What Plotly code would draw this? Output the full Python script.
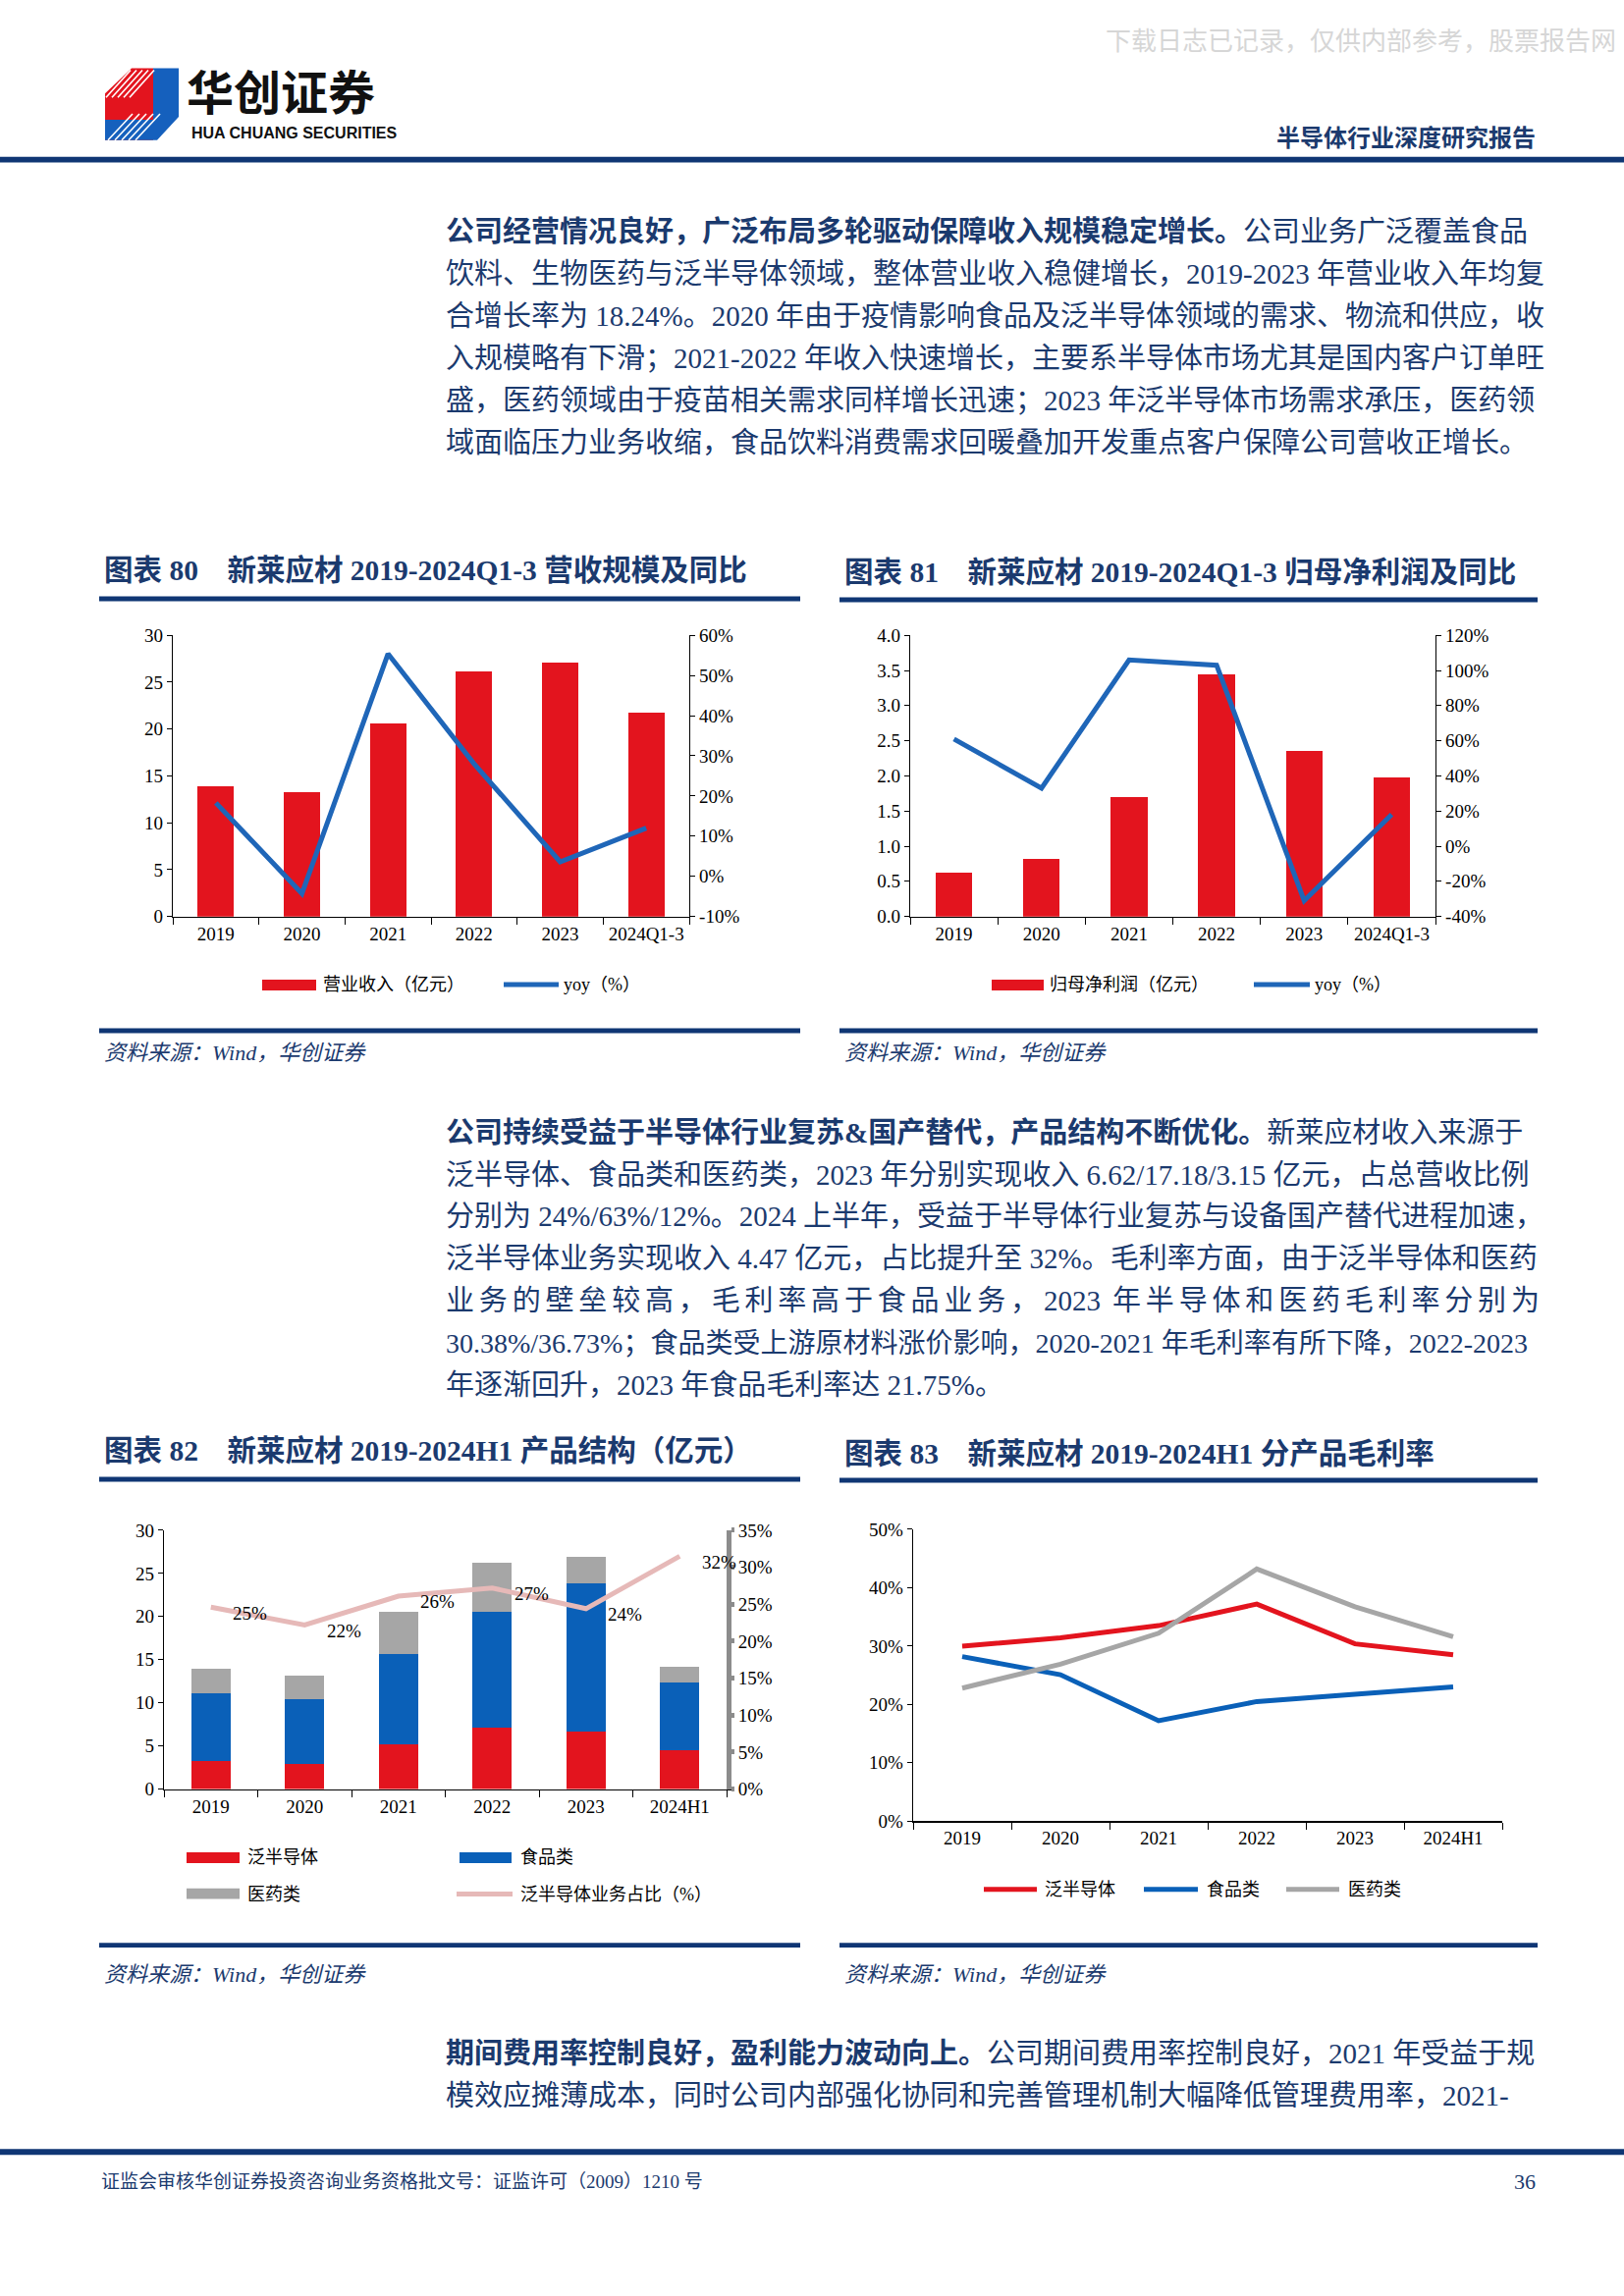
import plotly.graph_objects as go

# ---------------- data ----------------
cats_q = ["2019", "2020", "2021", "2022", "2023", "2024Q1-3"]
revenue = [13.9, 13.3, 20.6, 26.2, 27.1, 21.7]
revenue_yoy = [18.3, -4.3, 55.4, 28.0, 3.6, 12.0]
net_profit = [0.62, 0.82, 1.70, 3.45, 2.36, 1.98]
net_profit_yoy = [61.0, 33.0, 106.0, 103.0, -31.0, 18.0]

cats_h = ["2019", "2020", "2021", "2022", "2023", "2024H1"]
semi_rev = [3.3, 2.9, 5.2, 7.1, 6.62, 4.47]
food_rev = [7.8, 7.5, 10.4, 13.4, 17.18, 7.9]
pharma_rev = [2.8, 2.8, 5.0, 5.7, 3.15, 1.8]
semi_share = [24.6, 22.2, 26.1, 27.2, 24.4, 31.5]
semi_share_text = ["25%", "22%", "26%", "27%", "24%", "32%"]

semi_gm = [30.0, 31.4, 33.5, 37.2, 30.38, 28.5]
food_gm = [28.2, 25.1, 17.2, 20.5, 21.75, 23.0]
pharma_gm = [22.8, 26.9, 32.2, 43.2, 36.73, 31.6]

# right-axis tick labels (hyphen minus, as in the reference)
yoy80_ticks = [-10, 0, 10, 20, 30, 40, 50, 60]
yoy80_labels = ["-10%", "0%", "10%", "20%", "30%", "40%", "50%", "60%"]
yoy81_ticks = [-40, -20, 0, 20, 40, 60, 80, 100, 120]
yoy81_labels = ["-40%", "-20%", "0%", "20%", "40%", "60%", "80%", "100%", "120%"]

# ---------------- style ----------------
W, H = 1654, 2339
RED = "#E3141E"
BLUE = "#0A60B8"
LBLUE = "#1F66B8"
GRAY = "#A6A6A6"
PINK = "#E6B9B8"
NAVY = "#0F3674"
TXT = "#1B3A6E"
SERIF = "'Liberation Serif', 'Noto Sans CJK SC', serif"
CJK = "'Noto Sans CJK SC', sans-serif"


def X(px):
    return px / W


def Y(py):
    return 1 - py / H


TF = dict(family=SERIF, size=19, color="black")
XTF = dict(family=SERIF, size=19, color="black")

fig = go.Figure()

# chart 80
fig.add_trace(go.Bar(x=cats_q, y=revenue, marker=dict(color=RED, line_width=0),
                     xaxis="x", yaxis="y", showlegend=False))
fig.add_trace(go.Scatter(x=cats_q, y=revenue_yoy, mode="lines", line=dict(color=LBLUE, width=5),
                         xaxis="x", yaxis="y2", showlegend=False))
# chart 81
fig.add_trace(go.Bar(x=cats_q, y=net_profit, marker=dict(color=RED, line_width=0),
                     xaxis="x3", yaxis="y3", showlegend=False))
fig.add_trace(go.Scatter(x=cats_q, y=net_profit_yoy, mode="lines", line=dict(color=LBLUE, width=5),
                         xaxis="x3", yaxis="y4", showlegend=False))
# chart 82
for vals, col in [(semi_rev, RED), (food_rev, BLUE), (pharma_rev, GRAY)]:
    fig.add_trace(go.Bar(x=cats_h, y=vals, marker=dict(color=col, line_width=0),
                         xaxis="x5", yaxis="y5", showlegend=False))
fig.add_trace(go.Scatter(x=cats_h, y=semi_share, mode="lines", line=dict(color=PINK, width=5),
                         xaxis="x5", yaxis="y6", showlegend=False))
# chart 83
for vals, col in [(semi_gm, RED), (food_gm, BLUE), (pharma_gm, GRAY)]:
    fig.add_trace(go.Scatter(x=cats_h, y=vals, mode="lines", line=dict(color=col, width=5),
                             xaxis="x7", yaxis="y7", showlegend=False))


def xax(l, r, yanchor, cats):
    return dict(domain=[X(l), X(r)], anchor=yanchor, type="category", tickson="boundaries",
                categoryorder="array", categoryarray=cats, range=[-0.5, len(cats) - 0.5],
                tickangle=0, ticks="outside", ticklen=7, tickcolor="black", showline=True,
                linecolor="black", linewidth=1.3, showgrid=False, zeroline=False, tickfont=XTF)


def yax(top, bottom, xanchor, rng, dtick, **kw):
    d = dict(domain=[Y(bottom), Y(top)], anchor=xanchor, range=rng, dtick=dtick,
             ticks="outside", ticklen=5, tickcolor="black", showline=True, linecolor="black",
             linewidth=1.3, showgrid=False, zeroline=False, tickfont=TF)
    d.update(kw)
    return d


def y2ax(over, xanchor, rng, dtick, **kw):
    d = dict(overlaying=over, anchor=xanchor, side="right", range=rng, dtick=dtick, ticksuffix="%",
             ticks="outside", ticklen=5, tickcolor="black", showline=True, linecolor="black",
             linewidth=1.3, showgrid=False, zeroline=False, tickfont=TF)
    d.update(kw)
    return d


layout = dict(
    width=W, height=H, autosize=False,
    margin=dict(l=0, r=0, t=0, b=0),
    paper_bgcolor="white", plot_bgcolor="rgba(0,0,0,0)",
    barmode="stack", bargap=0.58,
    xaxis=xax(176, 702, "y", cats_q),
    yaxis=yax(643, 932, "x", [0, 30], 5),
    yaxis2=y2ax("y", "x", [-10, 60], 10, tickmode="array", tickvals=yoy80_ticks,
                ticktext=yoy80_labels, ticksuffix=""),
    xaxis3=xax(927, 1462, "y3", cats_q),
    yaxis3=yax(643, 932, "x3", [0, 4], 0.5, tickformat=".1f"),
    yaxis4=y2ax("y3", "x3", [-40, 120], 20, tickmode="array", tickvals=yoy81_ticks,
                ticktext=yoy81_labels, ticksuffix=""),
    xaxis5=xax(167, 740, "y5", cats_h),
    yaxis5=yax(1563, 1829, "x5", [0, 30], 5),
    yaxis6=y2ax("y5", "x5", [0, 35], 5, ticklen=3, tickwidth=5, tickcolor="#8C8C8C",
                linecolor="#8C8C8C", linewidth=5),
    xaxis7=xax(930, 1530, "y7", cats_h),
    yaxis7=yax(1562, 1862, "x7", [0, 50], 10, ticksuffix="%"),
)

shapes = []
ann = []


def rect(x0, y0, x1, y1, color):
    shapes.append(dict(type="rect", xref="paper", yref="paper", x0=X(x0), x1=X(x1), y0=Y(y1), y1=Y(y0),
                       fillcolor=color, line_width=0, layer="above"))


def hline(x0, x1, y, color, width):
    shapes.append(dict(type="line", xref="paper", yref="paper", x0=X(x0), x1=X(x1), y0=Y(y), y1=Y(y),
                       line=dict(color=color, width=width), layer="above"))


def text(x, y, s, size, color="black", family=SERIF, xanchor="left", yanchor="middle"):
    ann.append(dict(xref="paper", yref="paper", x=X(x), y=Y(y), text=s, showarrow=False,
                    xanchor=xanchor, yanchor=yanchor, font=dict(family=family, size=size, color=color)))


# ---------------- header ----------------
text(1648, 30, "下载日志已记录，仅供内部参考，股票报告网", 26, "#D6D6D6", CJK, xanchor="right")
# logo icon
shapes.append(dict(type="path", xref="paper", yref="paper",
                   path="M {},{} L {},{} L {},{} L {},{} L {},{} Z".format(
                       X(107), Y(86), X(134), Y(60), X(156), Y(60), X(156), Y(134), X(107), Y(134)),
                   fillcolor="#E3141E", line_width=0))
shapes.append(dict(type="path", xref="paper", yref="paper",
                   path="M {},{} L {},{} L {},{} L {},{} L {},{} Z".format(
                       X(156), Y(60), X(182), Y(60), X(182), Y(110), X(160), Y(134), X(156), Y(134)),
                   fillcolor="#1560BD", line_width=0))
shapes.append(dict(type="path", xref="paper", yref="paper",
                   path="M {},{} L {},{} L {},{} L {},{} Z".format(
                       X(107), Y(113), X(156), Y(113), X(156), Y(134), X(107), Y(134)),
                   fillcolor="#1560BD", line_width=0))
for i in range(5):
    shapes.append(dict(type="line", xref="paper", yref="paper", x0=X(108 + 6 * i), y0=Y(90),
                       x1=X(133 + 6 * i), y1=Y(62), line=dict(color="white", width=1.6)))
    shapes.append(dict(type="line", xref="paper", yref="paper", x0=X(110 + 7 * i), y0=Y(134),
                       x1=X(135 + 7 * i), y1=Y(107), line=dict(color="white", width=1.6)))
text(188, 82, "<b>华创证券</b>", 48, "#111111", CJK)
text(193, 127, "<b>HUA CHUANG SECURITIES</b>", 16, "#111111", "'Liberation Sans', sans-serif")
text(1566, 130, "<b>半导体行业深度研究报告</b>", 24, TXT, CJK, xanchor="right")
rect(0, 151, W, 157, NAVY)

# ---------------- paragraphs ----------------
SP = "\u2006"
PF = 29
para1 = [
    "<b>公司经营情况良好，广泛布局多轮驱动保障收入规模稳定增长。</b>公司业务广泛覆盖食品",
    "饮料、生物医药与泛半导体领域，整体营业收入稳健增长，2019-2023 年营业收入年均复",
    "合增长率为 18.24%。2020 年由于疫情影响食品及泛半导体领域的需求、物流和供应，收",
    "入规模略有下滑；2021-2022 年收入快速增长，主要系半导体市场尤其是国内客户订单旺",
    "盛，医药领域由于疫苗相关需求同样增长迅速；2023 年泛半导体市场需求承压，医药领",
    "域面临压力业务收缩，食品饮料消费需求回暖叠加开发重点客户保障公司营收正增长。",
]
for i, s in enumerate(para1):
    text(452, 228 + 43.3 * i, s, PF, TXT)

para2 = [
    "<b>公司持续受益于半导体行业复苏&amp;国产替代，产品结构不断优化。</b>新莱应材收入来源于",
    "泛半导体、食品类和医药类，2023 年分别实现收入 6.62/17.18/3.15 亿元，占总营收比例",
    "分别为 24%/63%/12%。2024 上半年，受益于半导体行业复苏与设备国产替代进程加速，",
    "泛半导体业务实现收入 4.47 亿元，占比提升至 32%。毛利率方面，由于泛半导体和医药",
    SP.join("业务的壁垒较高，毛利率高于食品业务，") + SP + "2023" + SP + " 年" + SP
    + SP.join("半导体和医药毛利率分别为"),
    "30.38%/36.73%；食品类受上游原材料涨价影响，2020-2021 年毛利率有所下降，2022-2023",
    "年逐渐回升，2023 年食品毛利率达 21.75%。",
]
para2_sizes = [PF, PF, PF, PF, PF, 28, PF]
for i, s in enumerate(para2):
    text(452, 1154 + 43.3 * i, s, para2_sizes[i], TXT)

para3 = [
    "<b>期间费用率控制良好，盈利能力波动向上。</b>公司期间费用率控制良好，2021 年受益于规",
    "模效应摊薄成本，同时公司内部强化协同和完善管理机制大幅降低管理费用率，2021-",
]
for i, s in enumerate(para3):
    text(452, 2101 + 43.3 * i, s, PF, TXT)

# ---------------- chart frames ----------------
NB = "\u00a0"
TS = 29.5
text(104, 576, "<b>图表" + NB + "80" + NB * 4 + "新莱应材 2019-2024Q1-3 营收规模及同比</b>", TS, TXT)
text(858, 578, "<b>图表" + NB + "81" + NB * 4 + "新莱应材 2019-2024Q1-3 归母净利润及同比</b>", TS, TXT)
text(104, 1481, "<b>图表" + NB + "82" + NB * 4 + "新莱应材 2019-2024H1 产品结构（亿元）</b>", TS, TXT)
text(858, 1484, "<b>图表" + NB + "83" + NB * 4 + "新莱应材 2019-2024H1 分产品毛利率</b>", TS, TXT)
rect(101, 603, 815, 608, NAVY)
rect(855, 604, 1566, 609, NAVY)
rect(101, 1047, 815, 1052, NAVY)
rect(855, 1047, 1566, 1052, NAVY)
rect(101, 1508, 815, 1513, NAVY)
rect(855, 1509, 1566, 1514, NAVY)
rect(101, 1987, 815, 1992, NAVY)
rect(855, 1987, 1566, 1992, NAVY)
src = "<i>资料来源：Wind，华创证券</i>"
text(104, 1072, src, 22, TXT)
text(858, 1072, src, 22, TXT)
text(104, 2020, src, 22, TXT)
text(858, 2020, src, 22, TXT)

# ---------------- legends ----------------
LF = 18
rect(267, 997, 322, 1008, RED)
text(327, 1002, "营业收入（亿元）", LF)
hline(513, 569, 1002, LBLUE, 5)
text(572, 1002, "yoy（%）", LF)

rect(1010, 997, 1063, 1008, RED)
text(1067, 1002, "归母净利润（亿元）", LF)
hline(1277, 1334, 1002, LBLUE, 5)
text(1337, 1002, "yoy（%）", LF)

rect(190, 1894, 244, 1905, RED)
text(250, 1899, "泛半导体", LF)
rect(468, 1894, 521, 1905, BLUE)
text(528, 1899, "食品类", LF)
rect(190, 1931, 244, 1942, GRAY)
text(250, 1937, "医药类", LF)
hline(465, 522, 1937, PINK, 5)
text(528, 1937, "泛半导体业务占比（%）", LF)

hline(1002, 1056, 1932, RED, 5)
text(1062, 1932, "泛半导体", LF)
hline(1165, 1220, 1932, BLUE, 5)
text(1227, 1932, "食品类", LF)
hline(1310, 1364, 1932, GRAY, 5)
text(1371, 1932, "医药类", LF)

# data labels for share line (chart 82): category index positions on the category axis
for i, (v, t) in enumerate(zip(semi_share, semi_share_text)):
    ann.append(dict(xref="x5", yref="y6", x=i, y=v, text=t, showarrow=False, xshift=40, yshift=-6,
                    font=dict(family=SERIF, size=19, color="black")))

# ---------------- footer ----------------
rect(0, 2199, W, 2205, NAVY)
text(101, 2233, "证监会审核华创证券投资咨询业务资格批文号：证监许可（2009）1210 号", 19, TXT)
text(1566, 2233, "36", 22, TXT, xanchor="right")

layout["shapes"] = shapes
layout["annotations"] = ann
fig.update_layout(**layout)
fig.write_html(
    "out.html",
    config={"displayModeBar": False, "staticPlot": True},
    post_script="document.body.style.margin='0px';document.body.style.overflow='hidden';"
                "document.documentElement.style.overflow='hidden';",
)
